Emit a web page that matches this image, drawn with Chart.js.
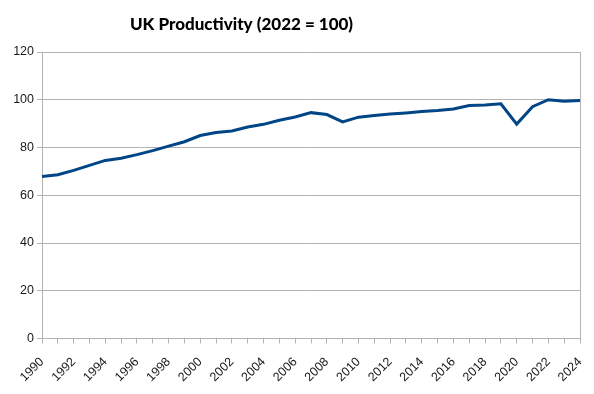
<!DOCTYPE html>
<html>
<head>
<meta charset="utf-8">
<script src="https://cdn.jsdelivr.net/npm/chart.js@4"></script>
<style>
  html, body { margin: 0; padding: 0; background: #ffffff; }
  #wrap { width: 594px; height: 394px; position: relative; }
</style>
</head>
<body>
<div id="wrap"><canvas id="c" width="594" height="394"></canvas></div>
<script>
const TITLE = 'UK Productivity (2022 = 100)';
const years = ['1990','1991','1992','1993','1994','1995','1996','1997','1998','1999',
               '2000','2001','2002','2003','2004','2005','2006','2007','2008','2009',
               '2010','2011','2012','2013','2014','2015','2016','2017','2018','2019',
               '2020','2021','2022','2023','2024'];
const productivity = [67.9, 68.6, 70.4, 72.5, 74.6, 75.5, 77.0, 78.7, 80.6, 82.4,
                      85.0, 86.3, 86.9, 88.6, 89.7, 91.4, 92.8, 94.6, 93.8, 90.7,
                      92.7, 93.4, 94.0, 94.5, 95.1, 95.5, 96.1, 97.6, 97.8, 98.3,
                      89.8, 97.1, 100.0, 99.4, 99.7];
const yTicks = [0, 20, 40, 60, 80, 100, 120];

const GRID = '#b3b3b3';
const TEXT = '#1a1a1a';

const titlePlugin = {
  id: 'offsetTitle',
  afterDraw(chart) {
    const ctx = chart.ctx;
    ctx.save();
    ctx.font = '900 17px Lato';
    ctx.fillStyle = '#000000';
    ctx.textAlign = 'center';
    ctx.textBaseline = 'alphabetic';
    ctx.fillText(TITLE, 241.5, 29.5);
    ctx.restore();
  }
};

new Chart(document.getElementById('c'), {
  type: 'line',
  data: {
    labels: years,
    datasets: [{
      label: 'Productivity',
      data: productivity,
      borderColor: '#004586',
      backgroundColor: '#004586',
      borderWidth: 3,
      pointRadius: 0,
      tension: 0,
      fill: false
    }]
  },
  options: {
    responsive: false,
    animation: false,
    devicePixelRatio: 1,
    layout: { padding: { top: 52, right: 14, left: 0, bottom: 0 } },
    plugins: {
      legend: { display: false },
      title: { display: false },
      tooltip: { enabled: false }
    },
    scales: {
      x: {
        type: 'category',
        offset: false,
        afterFit(scale) {
          scale.height = 55.5;
          scale.paddingLeft = 0;
          scale.paddingRight = 0;
        },
        border: { color: GRID, width: 1 },
        grid: {
          color: (ctx) => (ctx.index === years.length - 1 ? GRID : 'rgba(0,0,0,0)'),
          tickColor: GRID,
          tickLength: 5,
          drawTicks: true,
          lineWidth: 1
        },
        ticks: {
          autoSkip: false,
          minRotation: 45,
          maxRotation: 45,
          padding: 11,
          color: TEXT,
          font: { family: 'Liberation Sans', size: 12.5 },
          callback: (v, i) => (i % 2 === 0 ? years[i] : '')
        }
      },
      y: {
        min: 0,
        max: 120,
        afterFit(scale) { scale.width = 42; },
        afterBuildTicks(scale) { scale.ticks = yTicks.map(v => ({ value: v })); },
        border: { color: GRID, width: 1 },
        grid: {
          color: GRID,
          tickColor: GRID,
          tickLength: 5,
          lineWidth: 1
        },
        ticks: {
          padding: 3,
          color: TEXT,
          font: { family: 'Liberation Sans', size: 12.5 }
        }
      }
    }
  },
  plugins: [titlePlugin]
});
</script>
</body>
</html>
